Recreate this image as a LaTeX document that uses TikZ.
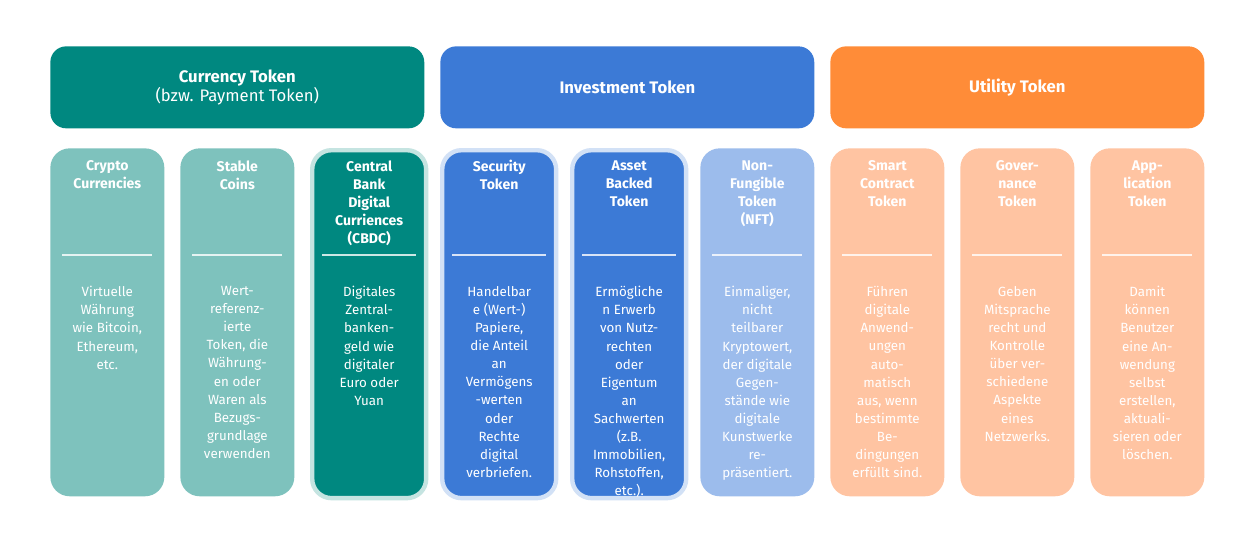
\documentclass[tikz,border=0pt]{standalone}
\usepackage{fontspec}
\setmainfont{Fira Sans}
\usetikzlibrary{positioning}
\definecolor{curhead}{RGB}{0,136,128}
\definecolor{curcol}{RGB}{126,194,189}
\definecolor{invhead}{RGB}{60,122,214}
\definecolor{invcol}{RGB}{156,188,236}
\definecolor{utihead}{RGB}{255,140,56}
\definecolor{uticol}{RGB}{255,196,162}

% one column: name, left x, fill, title, body
\newcommand{\tokcol}[6]{%
  \node[colbox=#3, #6] (#1) at (#2,148) {};
  \node[coltitle, below=0.24cm of #1.north] (#1t) {#4};
  \draw[white!80!#3, line width=0.6pt] ([xshift=7pt]#1.west |- 0,255) coordinate (#1l) -- ([xshift=-7pt]#1.east |- 0,255);
  \node[colbody] (#1b) at (#1.north |- 0,286) {#5};
}

\begin{document}
\begin{tikzpicture}[
    x=0.02cm, y=-0.02cm,
    headbox/.style={rectangle, rounded corners=9pt, fill=#1, text=white,
        minimum width=7.48cm, minimum height=1.64cm, anchor=north west,
        align=center, font=\bfseries\fontsize{9.5}{12}\selectfont},
    colbox/.style={rectangle, rounded corners=11pt, fill=#1, anchor=north west,
        minimum width=2.28cm, minimum height=6.96cm, inner sep=0pt},
    glow/.style={draw=#1!45, line width=2.5pt},
    coltitle/.style={anchor=north, align=center, text=white, inner sep=0pt,
        font=\bfseries\fontsize{8}{10.3}\selectfont},
    colbody/.style={anchor=north, align=center, text=white, inner sep=0pt,
        font=\fontsize{7.6}{10.3}\selectfont}
  ]
  \useasboundingbox (0,0) rectangle (1250,541);
  \fill[white] (0,0) rectangle (1250,541);

  \node[headbox=curhead] (currency) at (50,46) {Currency Token\\[-1pt]{\mdseries(bzw. Payment Token)}};
  \node[headbox=invhead] (investment) at (440,46) {Investment Token};
  \node[headbox=utihead] (utility) at (830,46) {Utility Token};

  \tokcol{crypto}{50}{curcol}{Crypto\\Currencies}{Virtuelle\\Währung\\wie Bitcoin,\\Ethereum,\\etc.}{}
  \tokcol{stable}{180}{curcol}{Stable\\Coins}{Wert-\\referenz-\\ierte\\Token, die\\Währung-\\en oder\\Waren als\\Bezugs-\\grundlage\\verwenden}{}
  \tokcol{cbdc}{310}{curhead}{Central\\Bank\\Digital\\Curriences\\(CBDC)}{Digitales\\Zentral-\\banken-\\geld wie\\digitaler\\Euro oder\\Yuan}{glow=curcol}
  \tokcol{security}{440}{invhead}{Security\\Token}{Handelbar\\e (Wert-)\\Papiere,\\die Anteil\\an\\Vermögens\\-werten\\oder\\Rechte\\digital\\verbriefen.}{glow=invcol}
  \tokcol{asset}{570}{invhead}{Asset\\Backed\\Token}{Ermögliche\\n Erwerb\\von Nutz-\\rechten\\oder\\Eigentum\\an\\Sachwerten\\(z.B.\\Immobilien,\\Rohstoffen,\\etc.).}{glow=invcol}
  \tokcol{nft}{700}{invcol}{Non-\\Fungible\\Token\\(NFT)}{Einmaliger,\\nicht\\teilbarer\\Kryptowert,\\der digitale\\Gegen-\\stände wie\\digitale\\Kunstwerke\\re-\\präsentiert.}{}
  \tokcol{smart}{830}{uticol}{Smart\\Contract\\Token}{Führen\\digitale\\Anwend-\\ungen\\auto-\\matisch\\aus, wenn\\bestimmte\\Be-\\dingungen\\erfüllt sind.}{}
  \tokcol{governance}{960}{uticol}{Gover-\\nance\\Token}{Geben\\Mitsprache\\recht und\\Kontrolle\\über ver-\\schiedene\\Aspekte\\eines\\Netzwerks.}{}
  \tokcol{application}{1090}{uticol}{App-\\lication\\Token}{Damit\\können\\Benutzer\\eine An-\\wendung\\selbst\\erstellen,\\aktuali-\\sieren oder\\löschen.}{}
\end{tikzpicture}
\end{document}
